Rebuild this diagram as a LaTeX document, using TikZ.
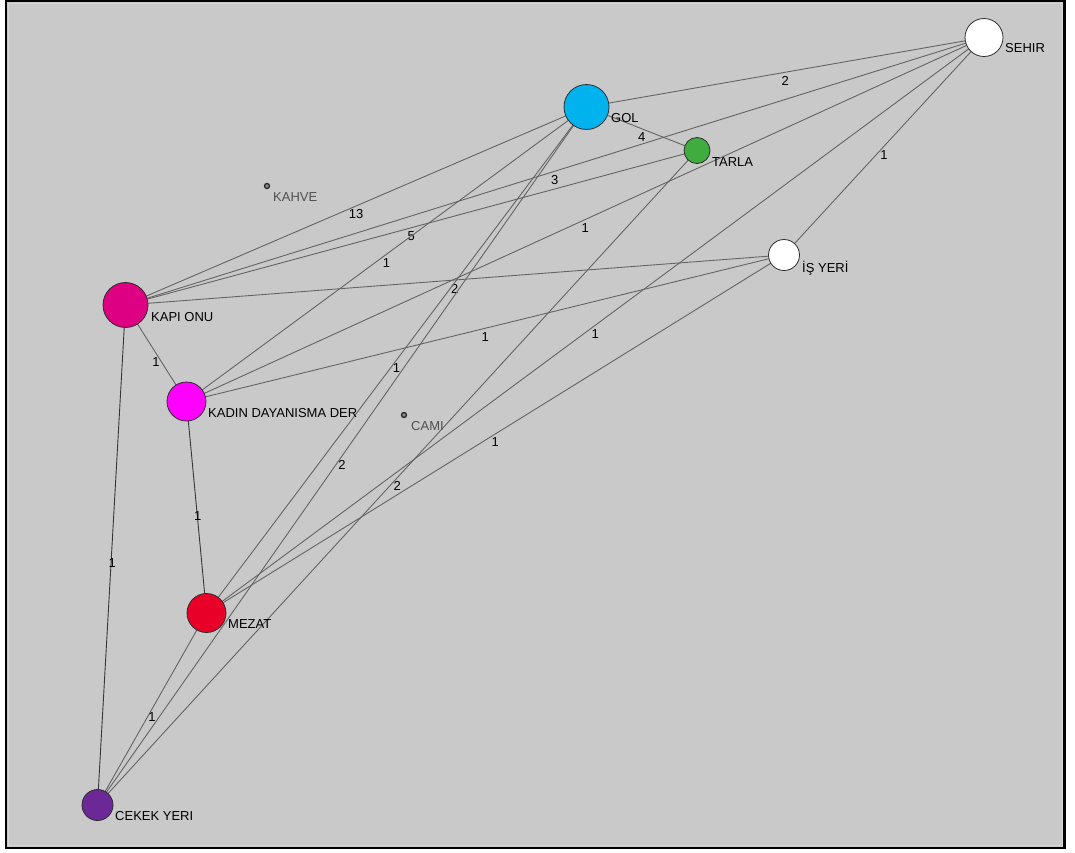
\documentclass[tikz,border=0pt]{standalone}
\usepackage{fontspec}
\setmainfont{Liberation Sans}
\pgfdeclarelayer{back}
\pgfdeclarelayer{edgelayer}
\pgfsetlayers{back,edgelayer,main}
\definecolor{bggray}{RGB}{201,201,201}
\definecolor{innerline}{RGB}{214,214,214}
\definecolor{edgegray}{RGB}{100,100,100}
\definecolor{edgedark}{RGB}{55,55,55}
\definecolor{outline}{RGB}{45,45,45}
\definecolor{golblue}{RGB}{0,178,238}
\definecolor{tarlagreen}{RGB}{64,172,64}
\definecolor{kapipink}{RGB}{222,0,130}
\definecolor{kadinmag}{RGB}{255,0,255}
\definecolor{mezatred}{RGB}{232,0,40}
\definecolor{cekekpurple}{RGB}{108,40,150}
\definecolor{dotgray}{RGB}{80,80,80}
\begin{document}
\begin{tikzpicture}[x=1pt,y=-1pt,
  vtx/.style={circle,draw=outline,line width=0.8pt,inner sep=0pt,minimum size=#1},
  dotnode/.style={circle,draw=black!85,fill=bggray!70!black,line width=1.3pt,inner sep=0pt,minimum size=5pt},
  lbl/.style={anchor=base west,inner sep=0pt,font=\fontsize{13}{15}\selectfont,text=black},
  glbl/.style={lbl,text=dotgray},
  edge/.style={draw=edgegray,line width=0.9pt},
  edgeD/.style={draw=edgedark,line width=0.9pt},
  elbl/.style={midway,yshift=-8.5pt,inner sep=0pt,font=\fontsize{13}{15}\selectfont,text=black}]
\useasboundingbox (0,0) rectangle (1075,852);
\begin{pgfonlayer}{back}
\fill[white] (0,0) rectangle (1075,852);
\fill[bggray] (6.2,0.9) rectangle (1064.7,848);
\draw[innerline,line width=1pt] (8.6,3.2) rectangle (1062.3,845.6);
\draw[black,line width=2.5pt] (6.2,0.9) rectangle (1064.7,848);
\end{pgfonlayer}

% nodes
\node[vtx=38pt,fill=white] (sehir) at (984,37.5) {};
\node[lbl] (sehirL) at (1005,52) {SEHIR};
\node[vtx=45pt,fill=golblue] (gol) at (586.5,107) {};
\node[lbl] (golL) at (611,122) {GOL};
\node[vtx=26pt,fill=tarlagreen] (tarla) at (697,150.5) {};
\node[lbl] (tarlaL) at (712,166) {TARLA};
\node[dotnode] (kahve) at (267,186) {};
\node[glbl] (kahveL) at (273,201) {KAHVE};
\node[vtx=31pt,fill=white] (isyeri) at (784,255) {};
\node[lbl] (isyeriL) at (802,272) {İŞ YERİ};
\node[vtx=45pt,fill=kapipink] (kapi) at (125.5,305) {};
\node[lbl] (kapiL) at (151,321) {KAPI ONU};
\node[vtx=39pt,fill=kadinmag] (kadin) at (186.5,401.5) {};
\node[lbl] (kadinL) at (208,417) {KADIN DAYANISMA DER};
\node[dotnode] (cami) at (404,415) {};
\node[glbl] (camiL) at (411,430) {CAMI};
\node[vtx=39pt,fill=mezatred] (mezat) at (206.5,613) {};
\node[lbl] (mezatL) at (228,628) {MEZAT};
\node[vtx=31pt,fill=cekekpurple] (cekek) at (97.5,805) {};
\node[lbl] (cekekL) at (115,820) {CEKEK YERI};

% edges
\begin{pgfonlayer}{edgelayer}
\path[edge] (gol.center) -- node[elbl]{2} (sehir.center);
\path[edge] (gol.center) -- node[elbl]{4} (tarla.center);
\path[edge] (kapi.center) -- node[elbl]{3} (sehir.center);
\path[edge] (kapi.center) -- node[elbl]{5} (tarla.center);
\path[edge] (kapi.center) -- node[elbl]{13} (gol.center);
\path[edge] (kadin.center) -- node[elbl]{1} (gol.center);
\path[edge] (kadin.center) -- node[elbl]{1} (sehir.center);
\path[edge] (kapi.center) -- node[elbl]{2} (isyeri.center);
\path[edge] (sehir.center) -- node[elbl]{1} (isyeri.center);
\path[edge] (kadin.center) -- node[elbl]{1} (isyeri.center);
\path[edge] (mezat.center) -- node[elbl]{1} (sehir.center);
\path[edge] (mezat.center) -- node[elbl]{1} (gol.center);
\path[edge] (cekek.center) -- node[elbl]{2} (gol.center);
\path[edge] (cekek.center) -- node[elbl]{2} (tarla.center);
\path[edge] (mezat.center) -- node[elbl]{1} (isyeri.center);
\path[edge] (kapi.center) -- node[elbl]{1} (kadin.center);
\path[edgeD] (kadin.center) -- node[elbl,xshift=1.2pt]{1} (mezat.center);
\path[edgeD] (kapi.center) -- node[elbl,xshift=0.8pt]{1} (cekek.center);
\path[edge] (cekek.center) -- node[elbl]{1} (mezat.center);
\end{pgfonlayer}
\end{tikzpicture}
\end{document}
